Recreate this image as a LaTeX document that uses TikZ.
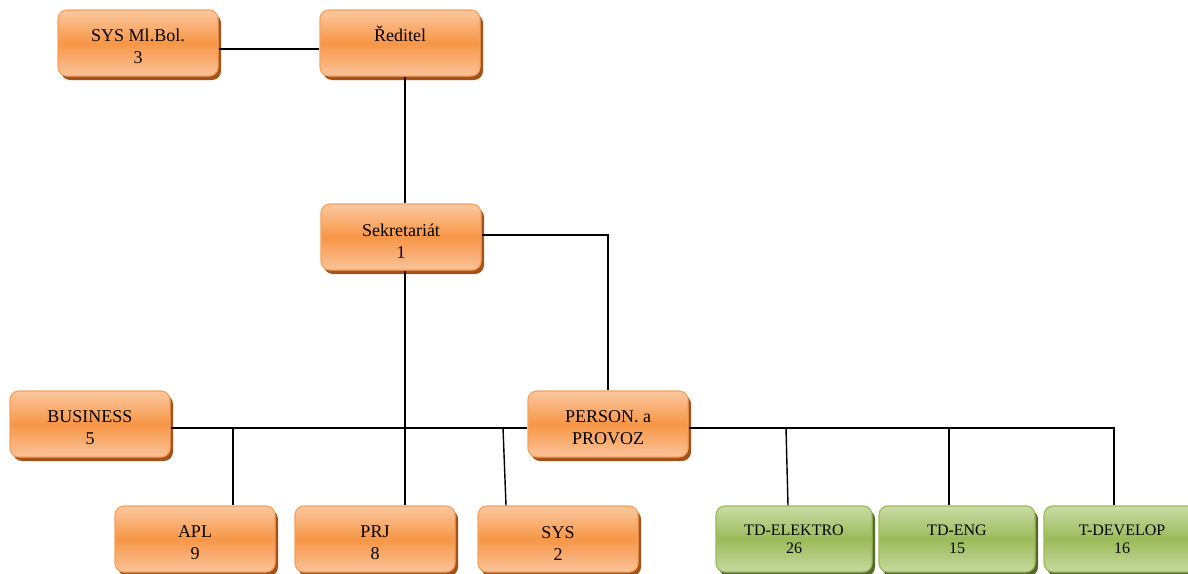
\documentclass[tikz,border=0pt]{standalone}
\usepackage{fontspec}
\setmainfont{Liberation Serif}
\usetikzlibrary{shadows}
\definecolor{otop}{HTML}{FBC8A0}
\definecolor{omid}{HTML}{F79646}
\definecolor{obot}{HTML}{FAC39A}
\definecolor{oline}{HTML}{F7A05C}
\definecolor{oshad}{HTML}{A3531A}
\definecolor{gtop}{HTML}{C9DCA6}
\definecolor{gmid}{HTML}{9BBB59}
\definecolor{gbot}{HTML}{C6D9A0}
\definecolor{gline}{HTML}{9BBB59}
\definecolor{gshad}{HTML}{55692C}
\tikzset{
  obox/.style={draw=oline, line width=1.2pt, rounded corners=9pt,
    top color=otop, bottom color=obot, middle color=omid,
    general shadow={fill=oshad, shadow xshift=3pt, shadow yshift=-4pt},
    minimum width=160pt, minimum height=66pt, inner sep=0pt, align=center,
    font=\fontsize{18}{22}\selectfont},
  gbox/.style={draw=gline, line width=1.2pt, rounded corners=9pt,
    top color=gtop, bottom color=gbot, middle color=gmid,
    general shadow={fill=gshad, shadow xshift=3pt, shadow yshift=-4pt},
    minimum width=156pt, minimum height=66pt, inner sep=0pt, align=center,
    font=\fontsize{16}{18}\selectfont},
  conn/.style={line width=1.4pt, black}
}
\newcommand{\otl}{\rule{0pt}{20pt}}
\newcommand{\gtl}{\rule{0pt}{12pt}}
\begin{document}
\begin{tikzpicture}[x=1pt,y=-1pt]
\clip (0,0) rectangle (1188,573);
\fill[white] (0,0) rectangle (1188,573);
% nodes
\node[obox] (sysml) at (138,43) {\otl SYS Ml.Bol.\\3};
\node[obox] (red) at (400,43) {\otl Ředitel\\\phantom{3}};
\node[obox] (sek) at (401,237) {\otl Sekretariát\\1};
\node[obox] (bus) at (90,424) {\otl BUSINESS\\5};
\node[obox] (pers) at (608,424) {\otl PERSON. a\\PROVOZ};
\node[obox] (apl) at (195,539) {\otl APL\\9};
\node[obox] (prj) at (375,539) {\otl PRJ\\8};
\node[obox] (sys) at (558,539) {\otl SYS\\2};
\node[gbox] (tde) at (794,539) {\gtl TD-ELEKTRO\\26};
\node[gbox] (tdg) at (957,539) {\gtl TD-ENG\\15};
\node[gbox] (tdd) at (1122,539) {\gtl T-DEVELOP\\16};
% helper coordinates
\coordinate (vx) at (405,0);
\coordinate (busy) at (0,428);
\coordinate (aplx) at (233,0);
\coordinate (systop) at (503,428);
\coordinate (sysx) at (506,0);
\coordinate (tdetop) at (786,428);
\coordinate (tdex) at (788,0);
\coordinate (tdgx) at (949,0);
\coordinate (tddx) at (1114,0);
% connectors
\draw[conn] ([yshift=-6pt]sysml.east) -- ([yshift=-6pt]red.west);
\draw[conn] (red.south -| vx) -- (sek.north -| vx);
\draw[conn] ([yshift=2pt]sek.east) -| (pers.north);
\draw[conn] (sek.south -| vx) -- (prj.north -| vx);
\draw[conn] (bus.east |- busy) -- (pers.west |- busy);
\draw[conn] (aplx |- busy) -- (apl.north -| aplx);
\draw[conn] (systop) -- (sys.north -| sysx);
\draw[conn] (pers.east |- busy) -- (tddx |- busy) -- (tdd.north -| tddx);
\draw[conn] (tdetop) -- (tde.north -| tdex);
\draw[conn] (tdgx |- busy) -- (tdg.north -| tdgx);
\end{tikzpicture}
\end{document}
